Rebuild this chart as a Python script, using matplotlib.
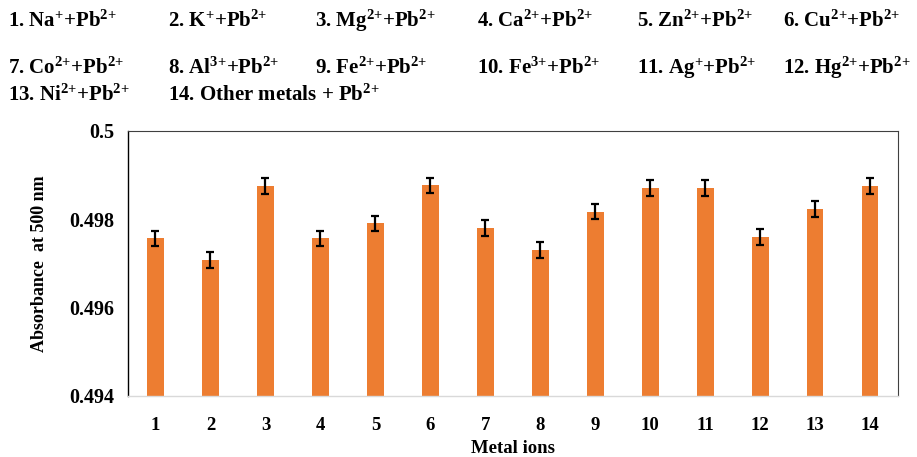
import matplotlib
matplotlib.use("Agg")
import matplotlib.pyplot as plt
import numpy as np

plt.rcParams['font.family'] = ['Liberation Serif', 'DejaVu Serif']
plt.rcParams['font.weight'] = 'bold'
plt.rcParams['mathtext.fontset'] = 'custom'
plt.rcParams['mathtext.rm'] = 'Liberation Serif:bold'
plt.rcParams['mathtext.it'] = 'Liberation Serif:bold'
plt.rcParams['mathtext.bf'] = 'Liberation Serif:bold'
plt.rcParams['mathtext.default'] = 'rm'

categories = [str(i) for i in range(1, 15)]
values = [0.49756, 0.49707, 0.49874, 0.49756, 0.49790, 0.49876, 0.49780,
          0.49730, 0.49817, 0.49871, 0.49871, 0.49759, 0.49823, 0.49874]
errors = [0.00018] * 14
yticks = [0.494, 0.496, 0.498, 0.5]
ytick_labels = ['0.494', '0.496', '0.498', '0.5']

legend_items = [
    r"1. Na$^{{+}}$+Pb$^{2{+}}$", r"2. K$^{{+}}$+Pb$^{2{+}}$", r"3. Mg$^{2{+}}$+Pb$^{2{+}}$",
    r"4. Ca$^{2{+}}$+Pb$^{2{+}}$", r"5. Zn$^{2{+}}$+Pb$^{2{+}}$", r"6. Cu$^{2{+}}$+Pb$^{2{+}}$",
    r"7. Co$^{2{+}}$+Pb$^{2{+}}$", r"8. Al$^{3{+}}$+Pb$^{2{+}}$", r"9. Fe$^{2{+}}$+Pb$^{2{+}}$",
    r"10. Fe$^{3{+}}$+Pb$^{2{+}}$", r"11. Ag$^{{+}}$+Pb$^{2{+}}$", r"12. Hg$^{2{+}}$+Pb$^{2{+}}$",
    r"13. Ni$^{2{+}}$+Pb$^{2{+}}$", r"14. Other metals + Pb$^{2{+}}$",
]

fig = plt.figure(figsize=(9.17, 4.57), dpi=100)
ax = fig.add_axes([128/917, 1-395.7/457, (897.7-128)/917, (395.7-130.7)/457])

x = np.arange(len(categories))
ax.bar(x, values, width=0.3, color='#ED7D31', zorder=2)
ax.errorbar(x, values, yerr=errors, fmt='none', ecolor='black',
            elinewidth=1.6, capsize=3.2, capthick=1.6, zorder=3)

ax.set_xlim(-0.5, len(categories) - 0.5)
ax.set_ylim(0.494, 0.5)
ax.set_yticks(yticks)
ax.set_yticklabels(ytick_labels, fontsize=14.5, fontweight='bold')
ax.set_xticks(x)
ax.set_xticklabels(categories, fontsize=13.5, fontweight='bold')
ax.tick_params(length=0, pad=15)
ax.tick_params(axis='y', pad=10)

ax.set_ylabel('Absorbance  at 500 nm', fontsize=13, fontweight='bold', labelpad=15)
ax.set_xlabel('Metal ions', fontsize=13.5, fontweight='bold', labelpad=5)

ax.spines['left'].set_color('black')
ax.spines['left'].set_linewidth(1.0)
ax.spines['top'].set_color('#404040')
ax.spines['right'].set_color('#404040')
ax.spines['bottom'].set_color('#d9d9d9')
ax.spines['bottom'].set_linewidth(1.0)

col_x = [8, 168, 315, 477, 637, 783]
row_y = [21, 68, 95]
for i, lab in enumerate(legend_items):
    r, c = divmod(i, 6)
    fig.text(col_x[c]/917, 1 - row_y[r]/457, lab, fontsize=15,
             fontweight='bold', va='center', ha='left')

fig.savefig('out.png', dpi=100)
